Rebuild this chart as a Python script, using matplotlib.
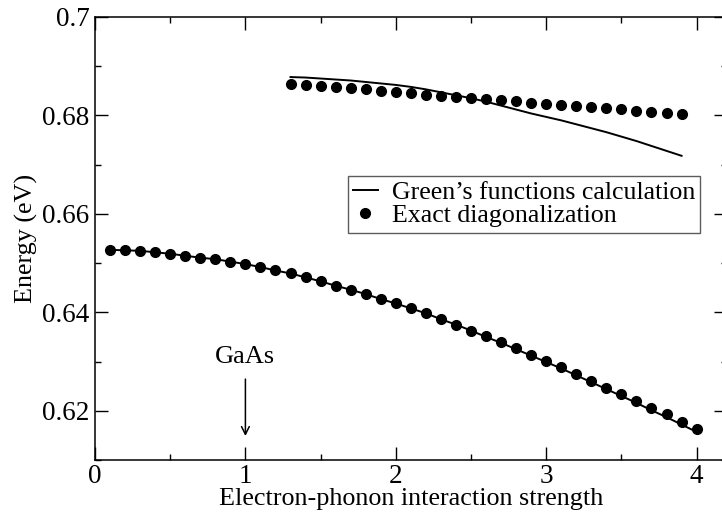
import matplotlib
matplotlib.use("Agg")
import matplotlib.pyplot as plt
from matplotlib.ticker import MultipleLocator

plt.rcParams['font.family'] = ['Liberation Serif', 'DejaVu Serif']

# Lower branch
x_low = [0.1, 0.2, 0.3, 0.4, 0.5, 0.6, 0.7, 0.8, 0.9, 1.0,
         1.1, 1.2, 1.3, 1.4, 1.5, 1.6, 1.7, 1.8, 1.9, 2.0,
         2.1, 2.2, 2.3, 2.4, 2.5, 2.6, 2.7, 2.8, 2.9, 3.0,
         3.1, 3.2, 3.3, 3.4, 3.5, 3.6, 3.7, 3.8, 3.9, 4.0]
ed_low = [0.6527, 0.6526, 0.6525, 0.6522, 0.6519, 0.6515, 0.6511, 0.6508, 0.6503, 0.6498,
          0.6492, 0.6485, 0.6479, 0.6471, 0.6463, 0.6454, 0.6446, 0.6437, 0.6427, 0.6418,
          0.6408, 0.6398, 0.6386, 0.6375, 0.6363, 0.6351, 0.6339, 0.6327, 0.6314, 0.6301,
          0.6288, 0.6275, 0.6261, 0.6247, 0.6234, 0.6220, 0.6206, 0.6193, 0.6178, 0.6162]
gf_low = [0.6527, 0.6526, 0.6525, 0.6522, 0.6519, 0.6515, 0.6511, 0.6508, 0.6503, 0.6498,
          0.6492, 0.6485, 0.6479, 0.6471, 0.6463, 0.6454, 0.6446, 0.6437, 0.6427, 0.6418,
          0.6408, 0.6398, 0.6386, 0.6375, 0.6363, 0.6350, 0.6338, 0.6325, 0.6312, 0.6299,
          0.6286, 0.6272, 0.6258, 0.6244, 0.6230, 0.6216, 0.6201, 0.6187, 0.6172, 0.6157]

# Upper branch
x_up = [1.3, 1.4, 1.5, 1.6, 1.7, 1.8, 1.9, 2.0, 2.1, 2.2,
        2.3, 2.4, 2.5, 2.6, 2.7, 2.8, 2.9, 3.0, 3.1, 3.2,
        3.3, 3.4, 3.5, 3.6, 3.7, 3.8, 3.9]
ed_up = [0.6864, 0.6862, 0.6860, 0.6858, 0.6856, 0.6853, 0.6850, 0.6847, 0.6845, 0.6842,
         0.6840, 0.6838, 0.6836, 0.6834, 0.6832, 0.6829, 0.6826, 0.6823, 0.6821, 0.6819,
         0.6817, 0.6815, 0.6813, 0.6809, 0.6807, 0.6805, 0.6802]
gf_up = [0.6878, 0.6877, 0.6875, 0.6873, 0.6871, 0.6868, 0.6865, 0.6862, 0.6858, 0.6853,
         0.6847, 0.6841, 0.6835, 0.6828, 0.6820, 0.6812, 0.6804, 0.6797, 0.6790, 0.6782,
         0.6774, 0.6766, 0.6757, 0.6748, 0.6738, 0.6728, 0.6718]

W, H = 722, 514
fig = plt.figure(figsize=(W / 100, H / 100), dpi=100)
ax = fig.add_axes([95 / W, 1 - 460 / H, 631.7 / W, 443 / H])

ax.plot(x_low, gf_low, color='black', lw=1.4, label='Green\u2019s functions calculation')
ax.plot(x_up, gf_up, color='black', lw=1.4)
ax.plot(x_low, ed_low, 'o', color='black', ms=7.0, label='Exact diagonalization')
ax.plot(x_up, ed_up, 'o', color='black', ms=7.0)

ax.set_xlim(0, 4.2)
ax.set_ylim(0.61, 0.70)
ax.xaxis.set_minor_locator(MultipleLocator(0.5))
ax.yaxis.set_minor_locator(MultipleLocator(0.01))
ax.set_xticks([0, 1, 2, 3, 4])
ax.set_xticklabels(['0', '1', '2', '3', '4'])
ax.set_yticks([0.62, 0.64, 0.66, 0.68, 0.70])
ax.set_yticklabels(['0.62', '0.64', '0.66', '0.68', '0.7'])
ax.tick_params(which='both', direction='in', top=True, right=True, width=1.0,
               labelsize=19.5, pad=4)
ax.tick_params(axis='x', which='both', pad=3)
ax.tick_params(which='major', length=9.5)
ax.tick_params(which='minor', length=4.5)
for s in ax.spines.values():
    s.set_linewidth(1.1)

ax.set_xlabel('Electron-phonon interaction strength', fontsize=18.8, labelpad=-0.5)
ax.set_ylabel('Energy (eV)', fontsize=18.8, labelpad=3)

ax.annotate('', xy=(1.0, 0.6143), xytext=(1.0, 0.6270),
            arrowprops=dict(arrowstyle='->', color='black', lw=1.1, mutation_scale=14))
ax.text(1.0, 0.6310, 'GaAs', ha='center', va='center', fontsize=19)

leg = ax.legend(loc='upper left', bbox_to_anchor=(0.4005, 0.641), fontsize=18.6,
                frameon=True, fancybox=False, handlelength=0.95, handletextpad=0.55,
                borderpad=0.2, labelspacing=0.0, borderaxespad=0, numpoints=1)
leg.get_frame().set_edgecolor('#333333')
leg.get_frame().set_linewidth(1.0)

fig.savefig('out.png', dpi=100)
